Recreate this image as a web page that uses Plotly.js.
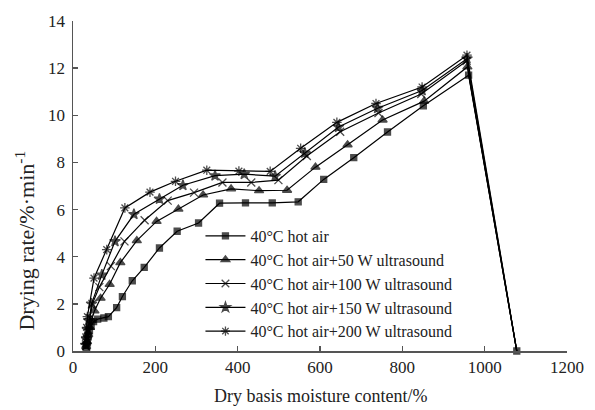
<!DOCTYPE html>
<html>
<head>
<meta charset="utf-8">
<script src="https://cdn.plot.ly/plotly-3.0.1.min.js"></script>
<style>html,body{margin:0;padding:0;background:#fff;}#chart{width:595px;height:410px;}</style>
</head>
<body>
<div id="chart"></div>
<script>
// Series names
const seriesNames = [
  "40°C hot air",
  "40°C hot air+50 W ultrasound",
  "40°C hot air+100 W ultrasound",
  "40°C hot air+150 W ultrasound",
  "40°C hot air+200 W ultrasound"
];

// 40°C hot air
const hotAirX = [33,35,37,40,44,50,60,75,86,106,120,144,173,210,253,305,356,419,484,547,609,682,764,851,961,1078];
const hotAirY = [0.15,0.35,0.6,0.85,1.05,1.25,1.35,1.4,1.46,1.84,2.31,2.98,3.55,4.37,5.08,5.43,6.27,6.28,6.28,6.33,7.28,8.2,9.29,10.4,11.7,0];

// +50 W
const us50X = [32,34,37,41,45,52,67,89,115,155,203,256,316,384,452,520,589,667,752,853,958,1078];
const us50Y = [0.2,0.4,0.7,1.0,1.3,1.7,2.24,2.83,3.75,4.68,5.5,6.02,6.62,6.88,6.8,6.82,7.8,8.75,9.8,10.6,12.05,0];

// +100 W
const us100X = [32,34,37,41,47,64,92,125,174,230,294,363,433,499,568,649,742,846,956,1078];
const us100Y = [0.2,0.5,0.9,1.4,2.0,2.71,3.6,4.65,5.55,6.38,6.72,7.15,7.15,7.25,8.27,9.3,10.1,10.9,12.3,0];

// +150 W
const us150X = [31,33,35,38,45,70,102,148,210,267,345,416,491,563,645,740,848,957,1078];
const us150Y = [0.25,0.5,0.9,1.3,2.0,3.23,4.65,5.8,6.45,7.03,7.44,7.5,7.42,8.4,9.5,10.3,11.05,12.4,0];

// +200 W
const us200X = [30,31,33,35,51,82,126,187,249,325,403,479,553,641,736,848,957,1078];
const us200Y = [0.3,0.6,1.0,1.46,3.09,4.3,6.07,6.74,7.2,7.67,7.63,7.62,8.6,9.7,10.5,11.2,12.55,0];

const xTicks = [0,200,400,600,800,1000,1200];
const yTicks = [0,2,4,6,8,10,12,14];

const FONT = "Liberation Serif, Times New Roman, serif";
const xs = [hotAirX, us50X, us100X, us150X, us200X];
const ys = [hotAirY, us50Y, us100Y, us150Y, us200Y];
const symbols = ["square","triangle-up","x-thin-open","star","asterisk-open"];
const sizes = [6,8,8,8,8];

const traces = xs.map((x,i)=>({
  x: x, y: ys[i], name: seriesNames[i], type: "scatter", mode: "lines+markers",
  line: {color: "#000", width: 1.2},
  marker: {
    symbol: symbols[i],
    // the shared end point shows only the square of the first series
    size: x.map((_, k) => (i > 0 && k === x.length - 1) ? 0 : sizes[i]),
    color: "#000", line: {color: "#000", width: 1.3}
  },
  cliponaxis: false
}));

const axisCommon = {
  showgrid: false, zeroline: false, showline: true, linecolor: "#555", linewidth: 1.5,
  ticks: "inside", ticklen: 5, tickwidth: 1.5, tickcolor: "#555",
  tickfont: {family: FONT, size: 17, color: "#222"}, mirror: false
};

const layout = {
  width: 595, height: 410,
  margin: {l: 73, r: 28, t: 21, b: 59},
  paper_bgcolor: "#fff", plot_bgcolor: "#fff",
  showlegend: true,
  legend: {x: 0.258, y: 0.4, xanchor: "left", yanchor: "top", bgcolor: "rgba(0,0,0,0)",
           font: {family: FONT, size: 16, color: "#222"}, tracegroupgap: 0, itemwidth: 40},
  xaxis: Object.assign({}, axisCommon, {range: [0,1200], tickvals: xTicks, ticktext: xTicks.map(String)}),
  yaxis: Object.assign({}, axisCommon, {range: [0,14], tickvals: yTicks, ticktext: yTicks.map(String), ticklabelstandoff: 3}),
  annotations: [
    {text: "Dry basis moisture content/%", xref: "paper", yref: "paper", x: 0.5, y: -0.135,
     xanchor: "center", yanchor: "middle", showarrow: false, font: {family: FONT, size: 18, color: "#222"}},
    {text: "Drying rate/%·min<sup>-1</sup>", xref: "paper", yref: "paper", x: -0.097, y: 0.335,
     xanchor: "center", yanchor: "middle", textangle: -90, showarrow: false, font: {family: FONT, size: 22, color: "#222"}}
  ]
};

Plotly.newPlot("chart", traces, layout, {staticPlot: true, displayModeBar: false});
</script>
</body>
</html>
